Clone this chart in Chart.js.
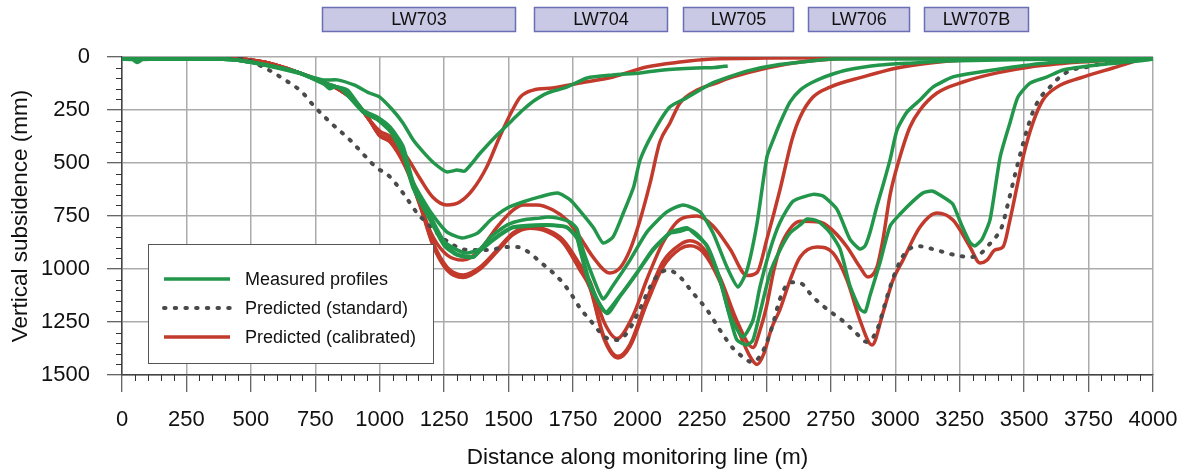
<!DOCTYPE html>
<html>
<head>
<meta charset="utf-8">
<script src="https://cdn.jsdelivr.net/npm/chart.js@4"></script>
<style>
  body { margin: 0; background: #fff; }
  canvas { display: block; }
</style>
</head>
<body>
<canvas id="subsidence-chart" width="1185" height="473"></canvas>
<script>
// longwall panels along the line (m)
var panelNames = ["LW703", "LW704", "LW705", "LW706", "LW707B"];
var panelStart = [775, 1600, 2175, 2660, 3110];
var panelEnd = [1525, 2115, 2605, 3055, 3515];

// measured profiles, one survey per panel extracted
var meas703Dist = [0, 40, 60, 80, 250, 420, 550, 680, 780, 835, 900, 960, 1000, 1050, 1090, 1130, 1170, 1210, 1260, 1300, 1330, 1390, 1455, 1515, 1555, 1600, 1650, 1725, 1805, 1905, 2010, 2100, 2230, 2300, 2350];
var meas703Sub = [10, 12, 26, 12, 10, 12, 38, 75, 108, 108, 132, 170, 189, 250, 311, 392, 450, 500, 542, 533, 538, 453, 368, 297, 250, 205, 170, 142, 99, 85, 75, 61, 52, 50, 42];

var meas704Dist = [0, 250, 420, 550, 680, 780, 805, 830, 875, 935, 990, 1040, 1090, 1130, 1200, 1260, 1320, 1380, 1430, 1495, 1555, 1620, 1690, 1740, 1780, 1830, 1866, 1905, 1945, 1985, 2010, 2060, 2125, 2190, 2290, 2420, 2550, 2760, 3000, 3500, 4000];
var meas704Sub = [10, 10, 12, 35, 72, 123, 150, 140, 156, 250, 283, 330, 420, 590, 736, 825, 854, 830, 769, 712, 684, 660, 642, 675, 731, 807, 877, 849, 736, 613, 486, 358, 236, 193, 123, 68, 35, 10, 10, 8, 5];

var meas705Dist = [0, 250, 420, 550, 680, 780, 850, 935, 990, 1040, 1090, 1130, 1200, 1250, 1300, 1340, 1390, 1430, 1495, 1555, 1620, 1650, 1690, 1740, 1765, 1780, 1815, 1866, 1905, 1971, 2037, 2114, 2177, 2243, 2293, 2347, 2390, 2425, 2464, 2502, 2526, 2553, 2592, 2631, 2681, 2747, 2813, 2941, 3069, 3200, 3500, 4000];
var meas705Sub = [10, 10, 12, 35, 70, 125, 150, 255, 290, 340, 440, 600, 760, 870, 910, 925, 905, 849, 792, 769, 760, 755, 760, 780, 810, 877, 1000, 1141, 1078, 958, 825, 731, 698, 731, 830, 991, 1085, 1005, 783, 472, 392, 311, 212, 156, 118, 85, 61, 38, 28, 19, 12, 5];

var meas706Dist = [0, 250, 420, 550, 680, 780, 850, 935, 990, 1040, 1090, 1130, 1200, 1250, 1300, 1362, 1389, 1450, 1517, 1610, 1672, 1726, 1765, 1777, 1816, 1874, 1932, 1998, 2060, 2126, 2165, 2192, 2215, 2270, 2320, 2359, 2409, 2448, 2475, 2514, 2553, 2604, 2681, 2720, 2774, 2824, 2863, 2883, 2902, 2929, 2955, 2980, 3007, 3046, 3096, 3146, 3224, 3329, 3457, 3589, 3845, 4000];
var meas706Sub = [10, 10, 12, 35, 72, 120, 150, 255, 290, 345, 450, 610, 770, 880, 930, 943, 910, 850, 802, 792, 792, 802, 849, 900, 1066, 1203, 1125, 1016, 906, 828, 812, 805, 828, 890, 1047, 1219, 1321, 1241, 1085, 910, 780, 680, 648, 656, 719, 859, 906, 891, 828, 703, 594, 484, 344, 259, 203, 142, 94, 71, 47, 28, 14, 5];

var meas707Dist = [0, 250, 420, 550, 680, 780, 850, 935, 990, 1040, 1090, 1130, 1200, 1250, 1300, 1362, 1389, 1450, 1517, 1610, 1672, 1726, 1765, 1777, 1816, 1882, 1932, 1998, 2060, 2126, 2165, 2200, 2230, 2270, 2320, 2359, 2386, 2425, 2448, 2475, 2514, 2553, 2592, 2631, 2658, 2700, 2747, 2786, 2824, 2863, 2883, 2902, 2941, 2980, 3018, 3069, 3108, 3146, 3201, 3224, 3259, 3290, 3309, 3337, 3368, 3407, 3445, 3476, 3523, 3589, 3651, 3783, 3977, 4000];
var meas707Sub = [10, 10, 12, 35, 72, 120, 150, 260, 295, 350, 460, 620, 780, 890, 935, 945, 915, 855, 805, 795, 795, 805, 855, 910, 1080, 1210, 1130, 1020, 912, 832, 822, 812, 835, 895, 1055, 1230, 1335, 1358, 1335, 1208, 1019, 910, 830, 792, 764, 775, 828, 906, 1078, 1188, 1203, 1125, 969, 797, 742, 680, 641, 633, 672, 695, 797, 875, 891, 859, 766, 472, 311, 189, 123, 94, 61, 38, 14, 10];

// standard prediction (final, all panels)
var stdDist = [0, 250, 450, 547, 632, 698, 741, 807, 885, 950, 989, 1028, 1090, 1145, 1183, 1245, 1300, 1342, 1428, 1486, 1532, 1583, 1622, 1661, 1711, 1750, 1777, 1816, 1874, 1920, 1959, 2002, 2049, 2080, 2118, 2165, 2215, 2270, 2320, 2370, 2409, 2444, 2483, 2522, 2553, 2592, 2631, 2681, 2739, 2793, 2844, 2890, 2929, 2968, 2999, 3038, 3088, 3146, 3201, 3251, 3298, 3329, 3360, 3390, 3414, 3434, 3453, 3472, 3492, 3511, 3534, 3562, 3600, 3639, 3686, 3744, 3822, 3899, 3977, 4000];
var stdSub = [0, 0, 3, 47, 108, 165, 226, 307, 392, 476, 524, 552, 641, 736, 783, 854, 896, 910, 910, 896, 896, 925, 967, 1005, 1066, 1132, 1184, 1241, 1321, 1335, 1302, 1208, 1085, 1028, 1005, 1038, 1113, 1193, 1288, 1373, 1415, 1439, 1396, 1274, 1140, 1063, 1066, 1132, 1193, 1241, 1297, 1344, 1288, 1132, 1019, 925, 892, 906, 925, 939, 943, 930, 890, 850, 800, 708, 613, 519, 425, 344, 259, 193, 142, 94, 61, 47, 28, 24, 5, 0];

// calibrated predictions, one per panel
var cal703Dist = [0, 250, 420, 550, 680, 780, 845, 910, 960, 1000, 1040, 1105, 1155, 1205, 1260, 1310, 1360, 1415, 1465, 1515, 1545, 1595, 1670, 1775, 1905, 2035, 2165, 2290, 2500, 3000, 4000];
var cal703Sub = [0, 2, 5, 24, 71, 118, 156, 217, 297, 350, 375, 472, 571, 660, 698, 684, 627, 519, 377, 250, 189, 156, 146, 123, 94, 47, 24, 10, 5, 3, 2];

var cal704Dist = [0, 250, 420, 550, 680, 780, 845, 910, 960, 1000, 1040, 1100, 1150, 1207, 1261, 1323, 1389, 1455, 1517, 1556, 1610, 1672, 1726, 1777, 1827, 1893, 1932, 1971, 2010, 2049, 2087, 2126, 2165, 2231, 2300, 2371, 2502, 2631, 2760, 3000, 4000];
var cal704Sub = [0, 2, 5, 24, 71, 118, 156, 217, 297, 365, 392, 500, 680, 849, 934, 958, 910, 802, 722, 698, 698, 722, 769, 850, 943, 1019, 995, 910, 769, 594, 400, 311, 217, 156, 125, 94, 52, 24, 9, 4, 2];

var cal705Dist = [0, 250, 420, 550, 680, 780, 845, 910, 960, 1000, 1040, 1100, 1150, 1207, 1261, 1323, 1389, 1455, 1517, 1583, 1649, 1711, 1777, 1816, 1870, 1920, 1983, 2037, 2099, 2165, 2231, 2293, 2359, 2425, 2464, 2502, 2553, 2599, 2631, 2681, 2747, 2875, 3007, 3135, 3263, 3500, 4000];
var cal705Sub = [0, 2, 5, 24, 71, 118, 156, 217, 297, 368, 395, 510, 660, 875, 991, 1028, 991, 910, 830, 802, 816, 863, 980, 1060, 1250, 1328, 1219, 1047, 875, 766, 750, 797, 906, 1031, 1016, 859, 625, 391, 283, 189, 142, 94, 52, 28, 14, 5, 2];

var cal706Dist = [0, 250, 420, 550, 680, 780, 845, 910, 960, 1000, 1040, 1100, 1150, 1207, 1261, 1323, 1389, 1455, 1517, 1583, 1649, 1711, 1777, 1816, 1870, 1924, 1971, 2037, 2099, 2165, 2204, 2254, 2320, 2386, 2448, 2475, 2500, 2530, 2553, 2592, 2631, 2708, 2759, 2813, 2863, 2894, 2929, 2952, 2980, 3018, 3057, 3096, 3162, 3263, 3395, 3523, 3717, 3977, 4000];
var cal706Sub = [0, 2, 5, 24, 71, 118, 156, 217, 297, 370, 398, 515, 670, 885, 1000, 1035, 995, 915, 835, 806, 820, 870, 1000, 1085, 1320, 1412, 1355, 1140, 965, 885, 867, 900, 1040, 1245, 1370, 1290, 1180, 1000, 900, 810, 775, 778, 820, 896, 991, 1038, 991, 863, 650, 472, 330, 250, 170, 118, 75, 47, 24, 5, 3];

var cal707Dist = [0, 250, 420, 550, 680, 780, 845, 910, 960, 1000, 1040, 1100, 1150, 1207, 1261, 1323, 1389, 1455, 1517, 1583, 1649, 1711, 1777, 1816, 1870, 1924, 1971, 2037, 2099, 2165, 2204, 2254, 2320, 2386, 2440, 2464, 2490, 2520, 2553, 2592, 2631, 2697, 2759, 2813, 2863, 2910, 2952, 2991, 3030, 3096, 3162, 3224, 3290, 3329, 3356, 3387, 3418, 3445, 3472, 3496, 3534, 3573, 3627, 3717, 3845, 3977, 4000];
var cal707Sub = [0, 2, 5, 24, 71, 118, 156, 217, 297, 372, 400, 520, 675, 890, 1005, 1040, 1000, 918, 838, 808, 824, 875, 1005, 1090, 1330, 1420, 1365, 1160, 990, 905, 890, 920, 1060, 1275, 1420, 1450, 1400, 1280, 1190, 1052, 943, 896, 925, 1052, 1241, 1358, 1208, 1052, 958, 802, 736, 769, 896, 972, 958, 910, 896, 769, 613, 472, 311, 203, 142, 99, 52, 5, 3];

var GREEN = "#22964a";
var RED = "#c23a2c";
var GREY = "#4a4a4a";
var FONT = "'Liberation Sans', Arial, sans-serif";
var DOTS = [1.5, 9.2];

function pts(xs, ys) {
    var out = [];
    for (var i = 0; i < xs.length; i++) {
        out.push({x: xs[i], y: ys[i]});
    }
    return out;
}

function measured(xs, ys) {
    return {data: pts(xs, ys), borderColor: GREEN, borderWidth: 3.5, pointRadius: 0,
        tension: 0.2, borderJoinStyle: "round", order: 0};
}

function calibrated(xs, ys) {
    return {data: pts(xs, ys), borderColor: RED, borderWidth: 3.5, pointRadius: 0,
        cubicInterpolationMode: "monotone", borderJoinStyle: "round", order: 2};
}

var datasets = [
    measured(meas703Dist, meas703Sub),
    measured(meas704Dist, meas704Sub),
    measured(meas705Dist, meas705Sub),
    measured(meas706Dist, meas706Sub),
    measured(meas707Dist, meas707Sub),
    {data: pts(stdDist, stdSub), borderColor: GREY, borderWidth: 4, pointRadius: 0,
        borderDash: DOTS, borderCapStyle: "round", cubicInterpolationMode: "monotone", order: 1},
    calibrated(cal703Dist, cal703Sub),
    calibrated(cal704Dist, cal704Sub),
    calibrated(cal705Dist, cal705Sub),
    calibrated(cal706Dist, cal706Sub),
    calibrated(cal707Dist, cal707Sub)
];

// legend box, minor ticks, axis titles and panel labels
var decor = {
    id: "decor",
    afterDatasetsDraw: function (chart) {
        var ctx = chart.ctx;
        ctx.save();
        ctx.fillStyle = "#fff";
        ctx.fillRect(148, 244, 285, 119);
        ctx.strokeStyle = "#555";
        ctx.lineWidth = 1;
        ctx.strokeRect(148.5, 244.5, 285, 119);
        var rows = [
            {text: "Measured profiles", color: GREEN, dash: [], cap: "butt", w: 3.5},
            {text: "Predicted (standard)", color: GREY, dash: DOTS, cap: "round", w: 4},
            {text: "Predicted (calibrated)", color: RED, dash: [], cap: "butt", w: 3.5}
        ];
        ctx.font = "18px " + FONT;
        ctx.textBaseline = "middle";
        for (var i = 0; i < rows.length; i++) {
            var y = 279 + i * 29;
            ctx.beginPath();
            ctx.setLineDash(rows[i].dash);
            ctx.lineCap = rows[i].cap;
            ctx.lineWidth = rows[i].w;
            ctx.strokeStyle = rows[i].color;
            ctx.moveTo(164, y);
            ctx.lineTo(230, y);
            ctx.stroke();
            ctx.setLineDash([]);
            ctx.fillStyle = "#111";
            ctx.fillText(rows[i].text, 245, y + 1);
        }
        ctx.restore();
    },
    afterDraw: function (chart) {
        var ctx = chart.ctx;
        var xs = chart.scales.x;
        var ys = chart.scales.y;
        var area = chart.chartArea;
        ctx.save();
        ctx.strokeStyle = "#333";
        ctx.lineWidth = 1;
        ctx.beginPath();
        for (var d = 50; d < 4000; d += 50) {
            if (d % 250 === 0) continue;
            var px = Math.round(xs.getPixelForValue(d)) + 0.5;
            ctx.moveTo(px, area.bottom);
            ctx.lineTo(px, area.bottom + 6);
        }
        for (var s = 50; s < 1500; s += 50) {
            if (s % 250 === 0) continue;
            var py = Math.round(ys.getPixelForValue(s)) + 0.5;
            ctx.moveTo(area.left, py);
            ctx.lineTo(area.left - 6, py);
        }
        ctx.stroke();

        ctx.fillStyle = "#111";
        ctx.font = "22.5px " + FONT;
        ctx.textAlign = "center";
        ctx.textBaseline = "middle";
        ctx.fillText("Distance along monitoring line (m)", (area.left + area.right) / 2, 458);
        ctx.save();
        ctx.translate(21, (area.top + area.bottom) / 2);
        ctx.rotate(-Math.PI / 2);
        ctx.fillText("Vertical subsidence (mm)", 0, 0);
        ctx.restore();

        ctx.font = "18px " + FONT;
        for (var i = 0; i < panelNames.length; i++) {
            var x0 = Math.round(xs.getPixelForValue(panelStart[i])) + 0.5;
            var x1 = Math.round(xs.getPixelForValue(panelEnd[i])) + 0.5;
            ctx.fillStyle = "#c9c9e5";
            ctx.fillRect(x0, 7.5, x1 - x0, 24);
            ctx.strokeStyle = "#6a6fb5";
            ctx.lineWidth = 1.5;
            ctx.strokeRect(x0, 7.5, x1 - x0, 24);
            ctx.fillStyle = "#111";
            ctx.fillText(panelNames[i], (x0 + x1) / 2, 20);
        }
        ctx.restore();
    }
};

Chart.defaults.font.family = FONT;

function plainTick(value) {
    return String(value);
}

var ctx = document.getElementById("subsidence-chart");
var chart = new Chart(ctx, {
    type: "line",
    data: {datasets: datasets},
    plugins: [decor],
    options: {
        responsive: false,
        animation: false,
        layout: {padding: {top: 57, right: 32, left: 0, bottom: 0}},
        plugins: {legend: {display: false}, tooltip: {enabled: false}},
        scales: {
            x: {
                type: "linear",
                min: 0,
                max: 4000,
                ticks: {stepSize: 250, autoSkip: false, maxRotation: 0, padding: 15,
                    color: "#111", font: {size: 22}, callback: plainTick},
                grid: {color: "#ababab", lineWidth: 1.5, tickLength: 17, tickColor: "#333", tickWidth: 1},
                border: {color: "#444", width: 1.5},
                afterFit: function (scale) {
                    scale.height = 98;
                    scale.paddingLeft = 0;
                    scale.paddingRight = 0;
                }
            },
            y: {
                type: "linear",
                reverse: true,
                min: 0,
                max: 1500,
                ticks: {stepSize: 250, padding: 17, color: "#111", font: {size: 22}, callback: plainTick},
                grid: {color: "#ababab", lineWidth: 1.5, tickLength: 15, tickColor: "#333", tickWidth: 1},
                border: {color: "#444", width: 1.5},
                afterFit: function (scale) {
                    scale.width = 122;
                    scale.paddingTop = 0;
                    scale.paddingBottom = 0;
                }
            }
        }
    }
});
</script>
</body>
</html>
